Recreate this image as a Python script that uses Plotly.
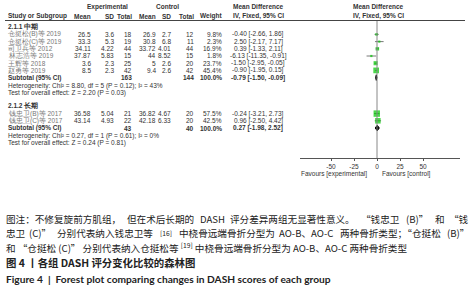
import plotly.graph_objects as go
import math

# ---------------- data ----------------
studies1 = ["仓挺松(B)等 2019", "仓挺松(C)等 2019", "司卫兵等 2012", "林志浩等 2019", "王辉等 2018", "赵勇等 2019"]
exp_mean1 = ["26.5", "33.3", "34.11", "37.87", "3.6", "8.5"]
exp_sd1 = ["3.6", "5.3", "4.22", "5.83", "2.3", "2.3"]
exp_n1 = [18, 19, 44, 15, 25, 42]
ctl_mean1 = ["26.9", "30.8", "33.72", "44", "5", "9.4"]
ctl_sd1 = ["2.7", "6.8", "4.01", "8.52", "2.6", "2.6"]
ctl_n1 = [12, 11, 44, 15, 20, 42]
weight1 = [9.8, 2.3, 16.9, 1.8, 23.7, 45.4]
md1 = [-0.40, 2.50, 0.39, -6.13, -1.50, -0.90]
lo1 = [-2.66, -2.17, -1.33, -11.35, -2.95, -1.95]
hi1 = [1.86, 7.17, 2.11, -0.91, -0.05, 0.15]
sub1 = {"n_e": 163, "n_c": 144, "md": -0.79, "lo": -1.50, "hi": -0.09}
het1 = "Heterogeneity: Chi² = 8.80, df = 5 (P = 0.12); I² = 43%"
test1 = "Test for overall effect: Z = 2.20 (P = 0.03)"

studies2 = ["钱忠卫(B)等 2017", "钱忠卫(C)等 2017"]
exp_mean2 = ["36.58", "43.14"]
exp_sd2 = ["5.04", "4.93"]
exp_n2 = [21, 22]
ctl_mean2 = ["36.82", "42.18"]
ctl_sd2 = ["4.67", "6.33"]
ctl_n2 = [20, 20]
weight2 = [57.5, 42.5]
md2 = [-0.24, 0.96]
lo2 = [-3.21, -2.50]
hi2 = [2.73, 4.42]
sub2 = {"n_e": 43, "n_c": 40, "md": 0.27, "lo": -1.98, "hi": 2.52}
het2 = "Heterogeneity: Chi² = 0.27, df = 1 (P = 0.61); I² = 0%"
test2 = "Test for overall effect: Z = 0.24 (P = 0.81)"

group_labels = ["2.1.1 中期", "2.1.2 长期"]
tick_vals = [-50, -25, 0, 25, 50]
tick_text = ["-50", "-25", "0", "25", "50"]

# caption: justified lines are given as word chunks
caption_line1 = ["图注：不修复旋前方肌组，", "但在术后长期的", "DASH", "评分差异两组无显著性意义。",
                 "“钱忠卫", "(B)”", "和", "“钱"]
caption_line2 = ["忠卫", "(C)”", "分别代表纳入钱忠卫等", "<sup>[16]</sup>", "中桡骨远端骨折分型为",
                 "AO-B、AO-C", "两种骨折类型；“仓挺松", "(B)”"]
caption_line3 = "和 “仓挺松 (C)” 分别代表纳入仓挺松等 <sup>[19]</sup> 中桡骨远端骨折分型为 AO-B、AO-C 两种骨折类型"
caption_cn = "图 4 丨各组 DASH 评分变化比较的森林图"
caption_en = "Figure 4  |  Forest plot comparing changes in DASH scores of each group"

# ---------------- layout helpers ----------------
W, H = 475, 300
FONT = "Liberation Sans, Arial, sans-serif"
FS = 6.5
TXT = "#333333"
NAME = "#777777"

annotations = []


def txt(x, y, s, anchor="left", bold=False, color=TXT, size=FS, family=FONT):
    if bold:
        s = "<b>" + s + "</b>"
    annotations.append(dict(
        x=x / W, y=1 - y / H, xref="paper", yref="paper", text=s, showarrow=False,
        xanchor=anchor, yanchor="middle", borderpad=0,
        font=dict(family=family, size=size, color=color)))


def est_width(s, size):
    s = s.replace("<sup>", "").replace("</sup>", "")
    w = 0.0
    for ch in s:
        o = ord(ch)
        if o > 0x2E80 or ch in "“”":
            w += 1.0
        elif ch == " ":
            w += 0.25
        elif ch in "()[]-":
            w += 0.33
        elif ch.isupper():
            w += 0.62
        else:
            w += 0.52
    return w * size


def justified(chunks, x0, x1, y, size, family, color):
    widths = [est_width(c, size) for c in chunks]
    gap = (x1 - x0 - sum(widths)) / (len(chunks) - 1)
    x = x0
    for i, (c, w) in enumerate(zip(chunks, widths)):
        if i == len(chunks) - 1:
            txt(x1, y, c, "right", color=color, size=size, family=family)
        elif i == 0:
            txt(x0, y, c, "left", color=color, size=size, family=family)
        else:
            txt(x + w / 2, y, c, "center", color=color, size=size, family=family)
        x += w + gap


# columns (pixel x)
X_NAME = 7
X_EM, X_ESD, X_EN = 92, 115, 133
X_CM, X_CSD, X_CN = 157, 172, 195
X_W = 223
X_CI = 258

# header
txt(107, 7, "Experimental", "center", bold=True)
txt(167, 7, "Control", "center", bold=True)
txt(258, 7, "Mean Difference", "center", bold=True)
txt(378, 7, "Mean Difference", "center", bold=True)
HY = 16
txt(X_NAME, HY, "Study or Subgroup", bold=True)
txt(X_EM, HY, "Mean", "right", bold=True)
txt(X_ESD, HY, "SD", "right", bold=True)
txt(X_EN, HY, "Total", "right", bold=True)
txt(X_CM, HY, "Mean", "right", bold=True)
txt(X_CSD, HY, "SD", "right", bold=True)
txt(X_CN, HY, "Total", "right", bold=True)
txt(X_W, HY, "Weight", "right", bold=True)
txt(X_CI, HY, "IV, Fixed, 95% CI", "center", bold=True)
txt(378, HY, "IV, Fixed, 95% CI", "center", bold=True)
RULE_Y = 20.5

Y0, STEP = 27.2, 7.2

fig = go.Figure()

groups = [
    (studies1, exp_mean1, exp_sd1, exp_n1, ctl_mean1, ctl_sd1, ctl_n1, weight1, md1, lo1, hi1, sub1, het1, test1),
    (studies2, exp_mean2, exp_sd2, exp_n2, ctl_mean2, ctl_sd2, ctl_n2, weight2, md2, lo2, hi2, sub2, het2, test2),
]

row = 0
for gi, (st, em, esd, en, cm, csd, cn, wt, md, lo, hi, sub, het, test) in enumerate(groups):
    y = Y0 + STEP * row
    txt(X_NAME, y, group_labels[gi], bold=True)
    row += 1
    ys = []
    for i in range(len(st)):
        y = Y0 + STEP * row
        ys.append(y)
        txt(X_NAME, y, st[i], color=NAME)
        txt(X_EM, y, em[i], "right")
        txt(X_ESD, y, esd[i], "right")
        txt(X_EN, y, str(en[i]), "right")
        txt(X_CM, y, cm[i], "right")
        txt(X_CSD, y, csd[i], "right")
        txt(X_CN, y, str(cn[i]), "right")
        txt(X_W, y, f"{wt[i]:.1f}%", "right")
        txt(X_CI, y, f"{md[i]:.2f} [{lo[i]:.2f}, {hi[i]:.2f}]", "center")
        row += 1
    fig.add_trace(go.Scatter(
        x=md, y=ys, mode="markers", xaxis="x", yaxis="y",
        marker=dict(symbol="square", color="#00c800", size=[max(2.2, 0.85 * math.sqrt(w)) for w in wt],
                    line=dict(width=0)),
        error_x=dict(type="data", symmetric=False,
                     array=[h - m for h, m in zip(hi, md)],
                     arrayminus=[m - l for m, l in zip(md, lo)],
                     color="#555555", thickness=0.8, width=0),
        hoverinfo="skip", showlegend=False))
    y = Y0 + STEP * row
    txt(X_NAME, y, "Subtotal (95% CI)", bold=True)
    txt(X_EN, y, str(sub["n_e"]), "right", bold=True)
    txt(X_CN, y, str(sub["n_c"]), "right", bold=True)
    txt(X_W, y, "100.0%", "right", bold=True)
    txt(X_CI, y, f"{sub['md']:.2f} [{sub['lo']:.2f}, {sub['hi']:.2f}]", "center", bold=True)
    fig.add_trace(go.Scatter(
        x=[sub["lo"], sub["md"], sub["hi"], sub["md"], sub["lo"]],
        y=[y, y - 2.8, y, y + 2.8, y], mode="lines", fill="toself",
        fillcolor="#000000", line=dict(color="#000000", width=1),
        xaxis="x", yaxis="y", hoverinfo="skip", showlegend=False))
    row += 1
    txt(X_NAME, Y0 + STEP * row + 0.8, het)
    row += 1
    txt(X_NAME, Y0 + STEP * row + 0.8, test)
    row += 2

AXIS_Y = 158
txt(368, 174, "Favours [experimental]", "right")
txt(381, 174, "Favours [control]", "left")

# caption
CAP_FONT = "Noto Sans CJK SC, sans-serif"
CAP_FS = 9.6
CAP_COL = "#222222"
justified(caption_line1, 5, 470, 219, CAP_FS, CAP_FONT, CAP_COL)
justified(caption_line2, 5, 470, 233, CAP_FS, CAP_FONT, CAP_COL)
txt(5, 247, caption_line3, color=CAP_COL, size=CAP_FS, family=CAP_FONT)
txt(5, 262, "<b>" + caption_cn + "</b>", color=CAP_COL, size=10.4, family=CAP_FONT)
txt(5, 279, caption_en, bold=True, color=CAP_COL, size=10.2, family="Lato, sans-serif")

shapes = [
    dict(type="line", xref="paper", yref="paper", x0=5 / W, x1=465 / W,
         y0=1 - RULE_Y / H, y1=1 - RULE_Y / H, line=dict(color="#444444", width=1)),
    dict(type="line", xref="x", yref="y", x0=0, x1=0, y0=21, y1=AXIS_Y,
         line=dict(color="#888888", width=1)),
]

px_left, px_right, px_zero, px_per25 = 300, 460, 377, 23.0
x_lo = (px_left - px_zero) * 25 / px_per25
x_hi = (px_right - px_zero) * 25 / px_per25

fig.update_layout(
    width=W, height=H, margin=dict(l=0, r=0, t=0, b=0),
    paper_bgcolor="white", plot_bgcolor="rgba(0,0,0,0)",
    annotations=annotations, shapes=shapes,
    xaxis=dict(domain=[px_left / W, px_right / W], range=[x_lo, x_hi],
               anchor="free", position=1 - AXIS_Y / H,
               showline=True, linecolor="#555555", linewidth=1,
               ticks="outside", ticklen=2, tickcolor="#555555", tickwidth=1,
               tickvals=tick_vals, ticktext=tick_text,
               tickfont=dict(family=FONT, size=FS, color=TXT),
               showgrid=False, zeroline=False, fixedrange=True),
    yaxis=dict(domain=[0, 1], range=[H, 0], visible=False, fixedrange=True),
    font=dict(family=FONT, size=FS, color=TXT),
)

fig.write_html("out.html", post_script="document.body.style.margin='0px';",
               config={"displayModeBar": False})
